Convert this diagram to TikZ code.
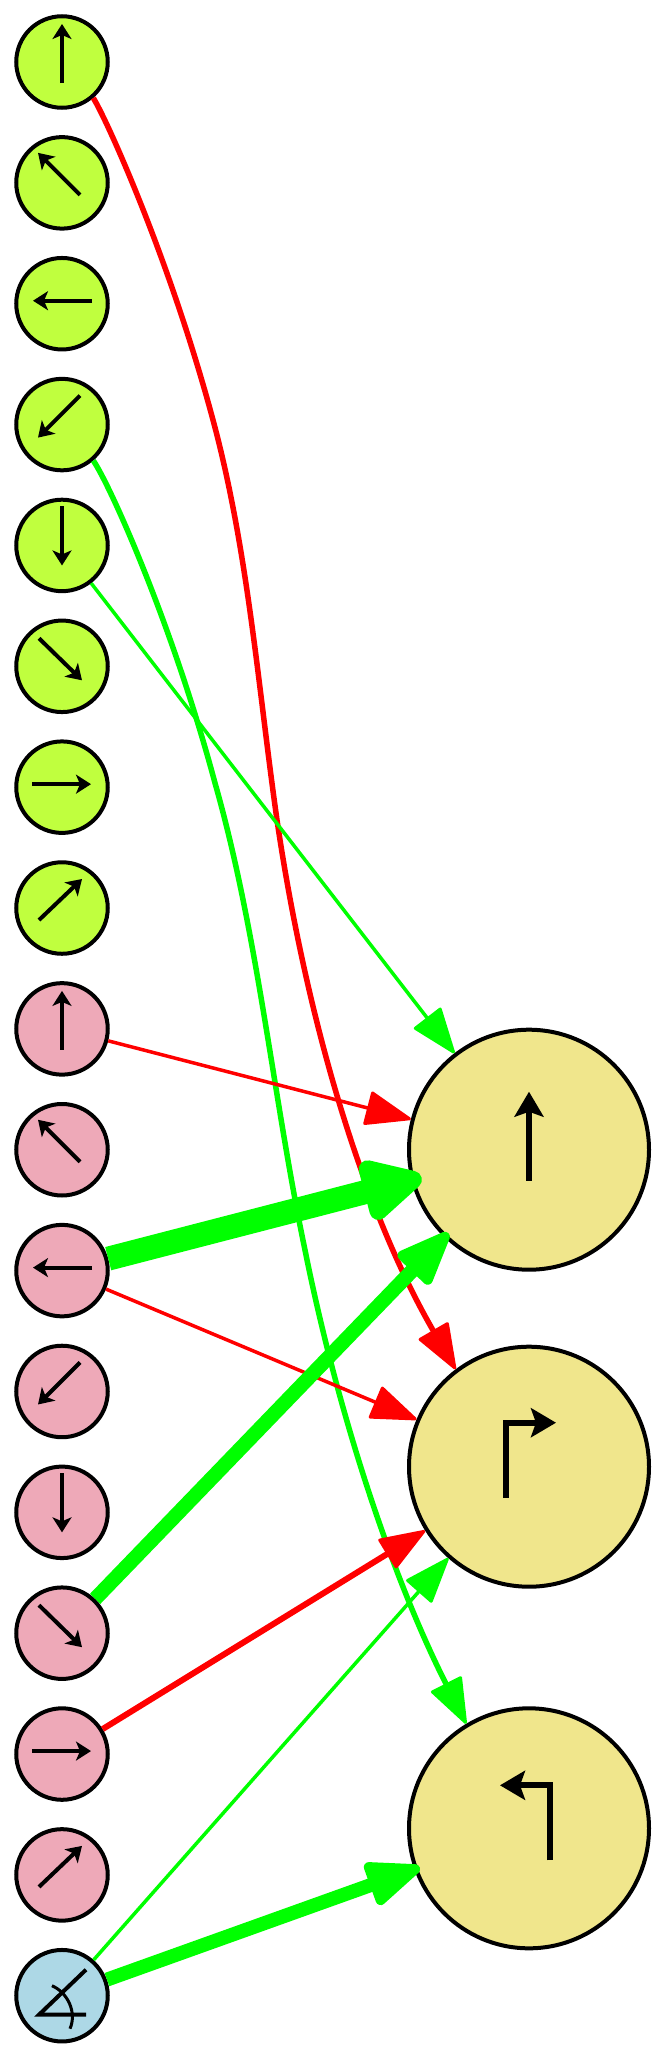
\documentclass[tikz,border=0pt]{standalone}
\usetikzlibrary{arrows.meta,calc}
\definecolor{cgreen}{HTML}{C0FF3E}
\definecolor{cpink}{HTML}{EEA9B8}
\definecolor{cblue}{HTML}{ADD8E6}
\definecolor{ckhaki}{HTML}{F0E68C}
\definecolor{egreen}{HTML}{00FF00}
\definecolor{ered}{HTML}{FF0000}
\tikzset{
  smallnode/.style={circle,draw=black,line width=4pt,minimum size=91.5pt,inner sep=0pt},
  bignode/.style={circle,draw=black,line width=4pt,minimum size=240pt,inner sep=0pt,fill=ckhaki},
  glyphsmall/.style={line width=4pt,black,-{Stealth[length=15pt,width=19pt,inset=4pt]}},
  glyphbig/.style={line width=6pt,black,miter limit=10,-{Stealth[length=25pt,width=29pt,inset=5pt]}},
  plain/.style={line width=4pt,black},
  thintip/.style={-{Triangle[length=48pt,width=35pt,round,line width=3pt]}},
  midtip/.style={-{Triangle[length=62pt,width=47pt,round,line width=10pt]}},
  fattip/.style={-{Triangle[length=71pt,width=67pt,round,line width=18pt]}},
}
\begin{document}
\begin{tikzpicture}[x=1pt,y=-1pt]
\useasboundingbox (0,0) rectangle (667,2058);
% small nodes
\foreach \i in {1,...,8}{\node[smallnode,fill=cgreen] (s\i) at (62,{62+120.86*(\i-1)}) {};}
\foreach \i in {9,...,16}{\node[smallnode,fill=cpink] (s\i) at (62,{62+120.86*(\i-1)}) {};}
\node[smallnode,fill=cblue] (s17) at (62,1995.7) {};
% large nodes
\node[bignode] (b1) at (529,1149.7) {};
\node[bignode] (b2) at (529,1466.7) {};
\node[bignode] (b3) at (529,1828.3) {};
% small glyphs
\foreach \i/\xa/\ya/\xb/\yb in {1/0/21/0/-38,2/18/12/-24/-30,3/30/-3/-29/-3,4/18/-29/-24/13,5/0/-39/0/20,6/-23/-28/20/14,7/-30/-3/29/-3,8/-23/12/20/-29}{
  \pgfmathtruncatemacro{\j}{\i+8}
  \draw[glyphsmall] ($(s\i.center)+(\xa,\ya)$) -- ($(s\i.center)+(\xb,\yb)$);
  \draw[glyphsmall] ($(s\j.center)+(\xa,\ya)$) -- ($(s\j.center)+(\xb,\yb)$);
}
% angle glyph
\draw[plain] ($(s17.center)+(24,19)$) -- ($(s17.center)+(-23,19)$) -- ($(s17.center)+(24,-26)$);
\draw[line width=3pt,black] ($(s17.center)+(-10,-10)$) .. controls ($(s17.center)+(6,-3)$) and ($(s17.center)+(15,17)$) .. ($(s17.center)+(8,33)$);
% large glyphs
\draw[glyphbig] ($(b1.center)+(0,31)$) -- ($(b1.center)+(0,-58)$);
\draw[glyphbig] ($(b2.center)+(-23,31)$) -- ($(b2.center)+(-23,-44)$) -- ($(b2.center)+(27,-44)$);
\draw[glyphbig] ($(b3.center)+(21,32)$) -- ($(b3.center)+(21,-43)$) -- ($(b3.center)+(-29,-43)$);
% connectors
\draw[ered,line width=5.5pt,thintip] (s1.-49) .. controls (107,120) and (170,260) .. (213,420)
   .. controls (248,550) and (258,686) .. (277,820)
   .. controls (305,1011) and (360,1204) .. (b2.127);
\draw[egreen,line width=5.5pt,thintip] (s4.-49) .. controls (110,485) and (172,623) .. (215,783)
   .. controls (258,934) and (273,1097) .. (305,1250)
   .. controls (338,1414) and (392,1577) .. (b3.121);
\draw[egreen,line width=3.5pt,thintip] (s5) -- (b1);
\draw[ered,line width=3.5pt,thintip] (s9) -- (b1);
\draw[egreen,line width=24pt,fattip,shorten >=-11pt] (s11) -- (b1);
\draw[ered,line width=3.5pt,thintip] (s11) -- (b2);
\draw[egreen,line width=14.5pt,midtip,shorten >=-6pt] (s14) -- (b1);
\draw[ered,line width=6pt,thintip] (s15) -- (b2);
\draw[egreen,line width=3.5pt,thintip] (s17) -- (b2);
\draw[egreen,line width=14pt,midtip,shorten >=-6pt] (s17) -- (b3);
\end{tikzpicture}
\end{document}
